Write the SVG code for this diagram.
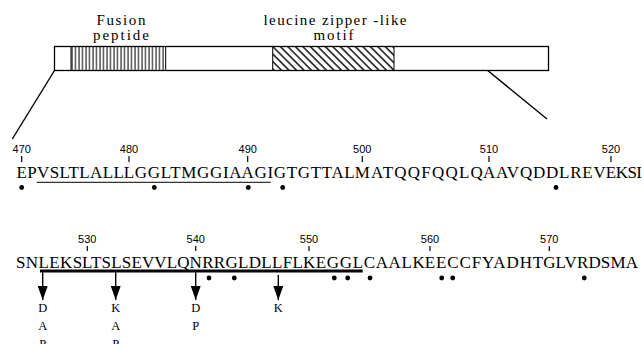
<svg xmlns="http://www.w3.org/2000/svg" width="644" height="344" viewBox="0 0 644 344">
<style>
.lbl{font-family:"Liberation Serif","Times New Roman",serif;font-size:15px;fill:#000;text-anchor:middle}
.seq{font-family:"Liberation Serif","Times New Roman",serif;font-size:17px;fill:#000}
.num{font-family:"Liberation Sans",Arial,sans-serif;font-size:11px;fill:#000;text-anchor:middle}
.sub{font-family:"Liberation Serif","Times New Roman",serif;font-size:12.5px;fill:#000;text-anchor:middle}
.tick{stroke:#000;stroke-width:1.2}
.ln{stroke:#000;stroke-width:1.4;fill:none}
.dot{fill:#000}
</style>
<defs>
<pattern id="vstripe" patternUnits="userSpaceOnUse" width="3.5" height="24" x="71" y="0">
<line x1="1" y1="0" x2="1" y2="24" stroke="#000" stroke-width="1"/>
</pattern>
<pattern id="dstripe" patternUnits="userSpaceOnUse" width="5.3" height="10" patternTransform="rotate(-45)">
<line x1="1" y1="-1" x2="1" y2="11" stroke="#000" stroke-width="1.4"/>
</pattern>
<marker id="ah" viewBox="0 0 14 10" refX="14" refY="5" markerWidth="14" markerHeight="10" markerUnits="userSpaceOnUse" orient="auto">
<path d="M0,0 L14,5 L0,10 Z" fill="#000"/>
</marker>
</defs>

<g id="protein-bar">
<rect x="54.5" y="46.5" width="494" height="24" fill="#fff" stroke="#000" stroke-width="1.3"/>
<rect x="71" y="46.5" width="94.7" height="24" fill="url(#vstripe)" stroke="#000" stroke-width="1"/>
<rect x="272.7" y="46.5" width="121.3" height="24" fill="url(#dstripe)" stroke="#000" stroke-width="1"/>
</g>

<g id="fusion-label">
<text class="lbl" x="121" y="24.5" textLength="49" lengthAdjust="spacing">Fusion</text>
<text class="lbl" x="121" y="39.5" textLength="56" lengthAdjust="spacing">peptide</text>
</g>

<g id="zipper-label">
<text class="lbl" x="335" y="24.5" textLength="143" lengthAdjust="spacing">leucine zipper -like</text>
<text class="lbl" x="333.5" y="39.5" textLength="40" lengthAdjust="spacing">motif</text>
</g>

<g id="connectors">
<line class="ln" x1="54.5" y1="70.5" x2="12.3" y2="139"/>
<line class="ln" x1="487.7" y1="70.5" x2="547" y2="119"/>
</g>

<g id="sequence-1">
<text class="num" x="21.7" y="153">470</text>
<text class="num" x="129" y="153">480</text>
<text class="num" x="247.7" y="153">490</text>
<text class="num" x="362.3" y="153">500</text>
<text class="num" x="489" y="153">510</text>
<text class="num" x="611" y="153">520</text>
<g class="tick">
<line x1="21.7" y1="156" x2="21.7" y2="162"/>
<line x1="129" y1="156" x2="129" y2="162"/>
<line x1="247.7" y1="156" x2="247.7" y2="162"/>
<line x1="362.3" y1="156" x2="362.3" y2="162"/>
<line x1="489" y1="156" x2="489" y2="162"/>
<line x1="611" y1="156" x2="611" y2="162"/>
</g>
<text class="seq" y="178"><tspan x="16.5" textLength="107.3" lengthAdjust="spacing">EPVSLTLALL</tspan><tspan x="123.8" textLength="117.8" lengthAdjust="spacing">LGGLTMGGIA</tspan><tspan x="241.6" textLength="113.1" lengthAdjust="spacing">AGIGTGTTAL</tspan><tspan x="354.7" textLength="128.2" lengthAdjust="spacing">MATQQFQQLQ</tspan><tspan x="482.9" textLength="122.9" lengthAdjust="spacing">AAVQDDLREV</tspan><tspan x="605.8" textLength="36.2" lengthAdjust="spacing">EKSI</tspan></text>
<line x1="36.7" y1="182.3" x2="270.7" y2="182.3" stroke="#000" stroke-width="1"/>
<circle class="dot" cx="21.7" cy="187.5" r="2.4"/>
<circle class="dot" cx="154.3" cy="187.5" r="2.4"/>
<circle class="dot" cx="248.3" cy="187.5" r="2.4"/>
<circle class="dot" cx="282.7" cy="187.5" r="2.4"/>
<circle class="dot" cx="556" cy="187.5" r="2.4"/>
</g>

<g id="sequence-2">
<text class="num" x="87.3" y="243">530</text>
<text class="num" x="195.7" y="243">540</text>
<text class="num" x="309" y="243">550</text>
<text class="num" x="430" y="243">560</text>
<text class="num" x="549.3" y="243">570</text>
<g class="tick">
<line x1="87.3" y1="246" x2="87.3" y2="251"/>
<line x1="195.7" y1="246" x2="195.7" y2="251"/>
<line x1="309" y1="246" x2="309" y2="251"/>
<line x1="430" y1="246" x2="430" y2="251"/>
<line x1="549.3" y1="246" x2="549.3" y2="251"/>
</g>
<text class="seq" y="268"><tspan x="16" textLength="66.1" lengthAdjust="spacing">SNLEKS</tspan><tspan x="82.1" textLength="107.5" lengthAdjust="spacing">LTSLSEVVLQ</tspan><tspan x="189.6" textLength="113.3" lengthAdjust="spacing">NRRGLDLLFL</tspan><tspan x="302.9" textLength="121.9" lengthAdjust="spacing">KEGGLCAALK</tspan><tspan x="424.8" textLength="118.4" lengthAdjust="spacing">EECCFYADHT</tspan><tspan x="543.2" textLength="94.8" lengthAdjust="spacing">GLVRDSMA</tspan></text>
<line x1="40" y1="271" x2="362.7" y2="271" stroke="#000" stroke-width="3"/>
<circle class="dot" cx="209" cy="278" r="2.4"/>
<circle class="dot" cx="234.3" cy="278" r="2.4"/>
<circle class="dot" cx="334.3" cy="278" r="2.4"/>
<circle class="dot" cx="347.7" cy="278" r="2.4"/>
<circle class="dot" cx="370" cy="278" r="2.4"/>
<circle class="dot" cx="441.7" cy="278" r="2.4"/>
<circle class="dot" cx="452.7" cy="278" r="2.4"/>
<circle class="dot" cx="584.3" cy="278" r="2.4"/>
</g>

<g id="mutation-arrows">
<line class="ln" x1="42.7" y1="272" x2="42.7" y2="300" marker-end="url(#ah)"/>
<line class="ln" x1="115.7" y1="272" x2="115.7" y2="300" marker-end="url(#ah)"/>
<line class="ln" x1="195.7" y1="272" x2="195.7" y2="300" marker-end="url(#ah)"/>
<line class="ln" x1="278.3" y1="275" x2="278.3" y2="300" marker-end="url(#ah)"/>
</g>

<g id="substitutions">
<text class="sub" x="42.7" y="312.3">D</text>
<text class="sub" x="42.7" y="330">A</text>
<text class="sub" x="42.7" y="347.5">P</text>
<text class="sub" x="115.7" y="312.3">K</text>
<text class="sub" x="115.7" y="330">A</text>
<text class="sub" x="115.7" y="347.5">P</text>
<text class="sub" x="195.7" y="312.3">D</text>
<text class="sub" x="195.7" y="330">P</text>
<text class="sub" x="278.3" y="312.3">K</text>
</g>
</svg>
